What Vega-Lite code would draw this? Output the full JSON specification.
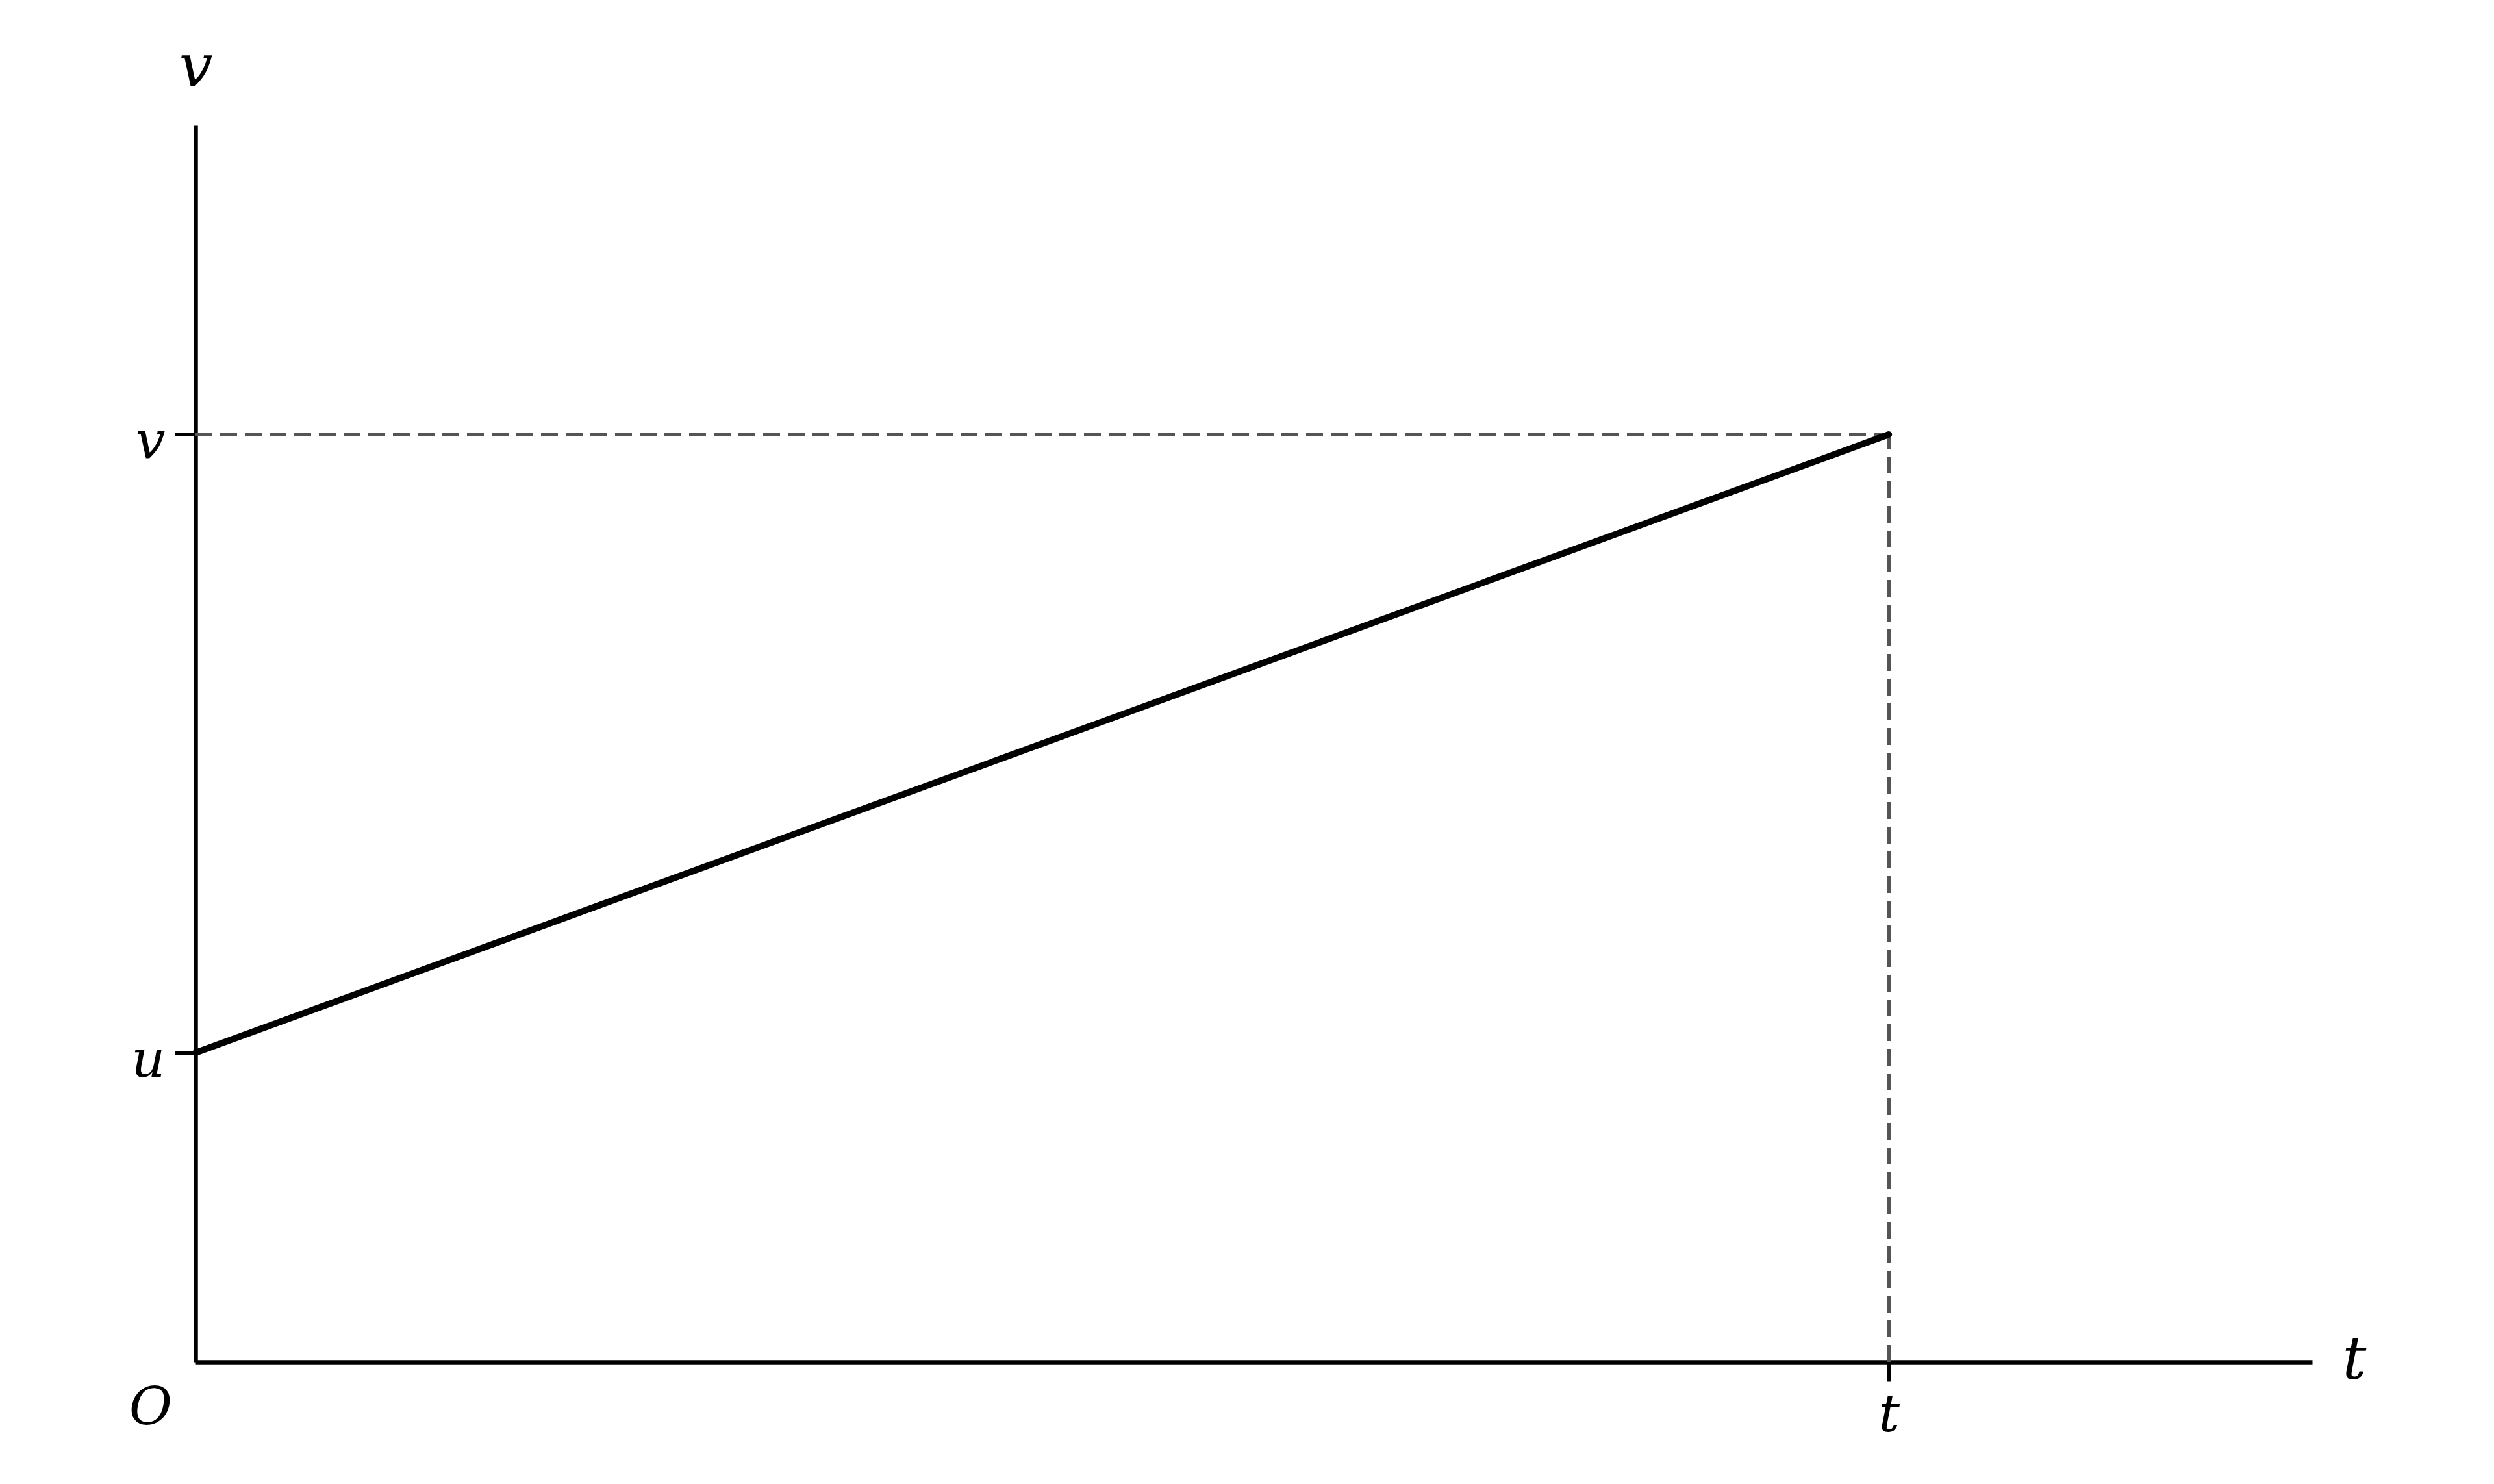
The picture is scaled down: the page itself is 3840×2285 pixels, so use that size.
{
  "$schema": "https://vega.github.io/schema/vega-lite/v6.json",
  "autosize": {"type": "none"},
  "padding": {"left": 301, "top": 193, "right": 280, "bottom": 188},
  "width": 3259,
  "height": 1904,
  "background": "white",
  "datasets": {
    "motion": [
      {"time": 0, "velocity": 1},
      {"time": 1, "velocity": 3}
    ],
    "guides": [
      {"x": 0, "x2": 1, "y": 3, "y2": 3},
      {"x": 1, "x2": 1, "y": 0, "y2": 3}
    ],
    "origin": [
      {"x": -0.0265, "y": -0.2017, "text": "O"}
    ]
  },
  "layer": [
    {
      "data": {"name": "guides"},
      "mark": {"type": "rule", "color": "#555555", "strokeWidth": 6, "strokeDash": [26, 12]},
      "encoding": {
        "x": {"field": "x", "type": "quantitative"},
        "x2": {"field": "x2"},
        "y": {"field": "y", "type": "quantitative"},
        "y2": {"field": "y2"}
      }
    },
    {
      "data": {"name": "motion"},
      "mark": {"type": "line", "color": "black", "strokeWidth": 10, "strokeCap": "round"},
      "encoding": {
        "x": {
          "field": "time",
          "type": "quantitative",
          "scale": {"domain": [0, 1.25], "nice": false, "zero": false},
          "axis": {
            "values": [1],
            "labelExpr": "'t'",
            "title": "t",
            "titleAngle": 0,
            "titleAlign": "left",
            "titleBaseline": "alphabetic",
            "titleX": 3305,
            "titleY": 25,
            "tickSize": 30,
            "labelPadding": 12,
            "labelBaseline": "top"
          }
        },
        "y": {
          "field": "velocity",
          "type": "quantitative",
          "scale": {"domain": [0, 4], "nice": false, "zero": false},
          "axis": {
            "values": [1, 3],
            "labelExpr": "datum.value == 1 ? 'u' : 'v'",
            "title": "v",
            "titleAngle": 0,
            "titleAlign": "center",
            "titleBaseline": "alphabetic",
            "titleX": 0,
            "titleY": -61,
            "tickSize": 32,
            "labelPadding": 15,
            "labelBaseline": "middle",
            "labelOffset": 12
          }
        }
      }
    },
    {
      "data": {"name": "origin"},
      "mark": {
        "type": "text",
        "font": "DejaVu Serif",
        "fontStyle": "italic",
        "fontSize": 81,
        "align": "center",
        "baseline": "alphabetic",
        "color": "black"
      },
      "encoding": {
        "x": {"field": "x", "type": "quantitative"},
        "y": {"field": "y", "type": "quantitative"},
        "text": {"field": "text"}
      }
    }
  ],
  "config": {
    "view": {"stroke": null},
    "axis": {
      "grid": false,
      "domainColor": "black",
      "domainWidth": 6.5,
      "tickColor": "black",
      "tickWidth": 5,
      "labelFont": "DejaVu Serif",
      "labelFontStyle": "italic",
      "labelFontSize": 81,
      "labelColor": "black",
      "titleFont": "DejaVu Serif",
      "titleFontStyle": "italic",
      "titleFontWeight": "normal",
      "titleFontSize": 92,
      "titleColor": "black",
      "zindex": 1
    }
  }
}
